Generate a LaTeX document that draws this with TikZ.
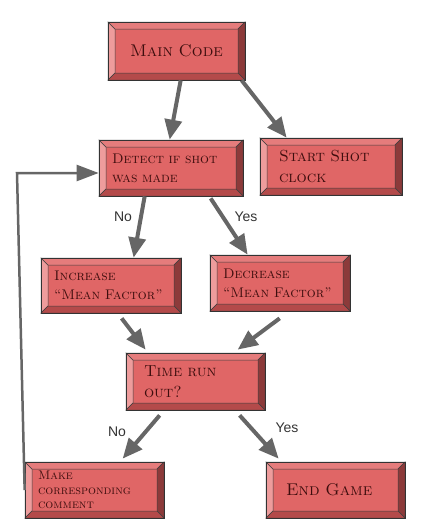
\documentclass[tikz,border=0pt]{standalone}
\usepackage{fontspec}
\newfontfamily\labfont{Liberation Sans}
\usetikzlibrary{arrows.meta,calc}
\definecolor{bface}{HTML}{E06666}
\definecolor{bleft}{HTML}{EE9C9C}
\definecolor{btop}{HTML}{E57C7C}
\definecolor{bright}{HTML}{8C3A3A}
\definecolor{bbot}{HTML}{B44A4A}
\definecolor{btext}{HTML}{3E0E0E}
\definecolor{arrgray}{HTML}{666666}
\tikzset{
  bev/.style={draw=black!75,line width=0.5pt},
  boxnode/.style={draw=black!80,line width=0.7pt,inner sep=0pt,text=btext},
  arr/.style={draw=arrgray,line width=4pt,-{Triangle[length=20pt,width=17pt]}},
  fb/.style={draw=arrgray,line width=2.5pt,-{Triangle[length=22pt,width=16pt]}},
  lab/.style={font=\labfont\fontsize{14}{16}\selectfont,text=black!80}
}
\newcommand\bw{7}
% name, x1, y1, x2, y2, align, pad, font, text
\newcommand\bbox[9]{%
  \fill[bface] (#2,#3) rectangle (#4,#5);
  \filldraw[bleft,bev] (#2,#3) -- (#2+\bw,#3+\bw) -- (#2+\bw,#5-\bw) -- (#2,#5) -- cycle;
  \filldraw[btop,bev] (#2,#3) -- (#4,#3) -- (#4-\bw,#3+\bw) -- (#2+\bw,#3+\bw) -- cycle;
  \filldraw[bright,bev] (#4,#3) -- (#4,#5) -- (#4-\bw,#5-\bw) -- (#4-\bw,#3+\bw) -- cycle;
  \filldraw[bbot,bev] (#2,#5) -- (#4,#5) -- (#4-\bw,#5-\bw) -- (#2+\bw,#5-\bw) -- cycle;
  \node[boxnode,minimum width={#4-#2},minimum height={#5-#3},
        text width={#4-#2-2*#7},align=#6,font=#8]
        (#1) at ({(#2+#4)/2},{(#3+#5)/2}) {#9};
}
\begin{document}
\begin{tikzpicture}[x=1pt,y=-1pt]
\useasboundingbox (0,0) rectangle (426,531);
\bbox{main}{108}{22}{245}{80}{center}{10}{\scshape\fontsize{17}{20}\selectfont}{Main Code}
\bbox{detect}{99}{140}{243}{196}{left}{13}{\scshape\fontsize{14}{19}\selectfont}{Detect if shot\\was made}
\bbox{start}{260}{138}{402}{195}{left}{19}{\scshape\fontsize{16}{21}\selectfont}{Start Shot\\clock}
\bbox{inc}{41}{258}{181}{313}{left}{13}{\scshape\fontsize{14}{19}\selectfont}{Increase\\``Mean Factor''}
\bbox{dec}{210}{255}{350}{311}{left}{13}{\scshape\fontsize{14}{19}\selectfont}{Decrease\\``Mean Factor''}
\bbox{time}{126}{353}{265}{410}{left}{18}{\scshape\fontsize{16}{21}\selectfont}{Time run\\out?}
\bbox{make}{25}{462}{164}{518}{left}{13}{\scshape\fontsize{12.5}{14.5}\selectfont}{Make\\corresponding\\comment}
\bbox{end}{266}{462}{405}{518}{left}{20}{\scshape\fontsize{17}{20}\selectfont}{End Game}

\draw[arr] ($(main.south west)+(73,0)$) -- ($(detect.north west)+(71,0)$);
\draw[arr] ($(main.south west)+(134,0)$) -- ($(start.north west)+(27,0)$);
\draw[arr] ($(detect.south west)+(46,0)$) -- ($(inc.north west)+(93,0)$);
\draw[arr] ($(detect.south west)+(112,2)$) -- ($(dec.north west)+(38,0)$);
\draw[arr] ($(inc.south west)+(81,5)$) -- ($(time.north west)+(20,-3)$);
\draw[arr] ($(dec.south west)+(70,7)$) -- ($(time.north west)+(112,-3)$);
\draw[arr] ($(time.south west)+(34,5)$) -- ($(make.north west)+(98,-3)$);
\draw[arr] ($(time.south west)+(114,5)$) -- ($(end.north west)+(13,-3)$);
\draw[fb] (make.west) -- (17,173) -- ($(detect.west)+(0,5)$);

\node[lab] (no1) at (123,217) {No};
\node[lab] (yes1) at (246,217) {Yes};
\node[lab] (no2) at (117,432) {No};
\node[lab] (yes2) at (287,428) {Yes};
\end{tikzpicture}
\end{document}
